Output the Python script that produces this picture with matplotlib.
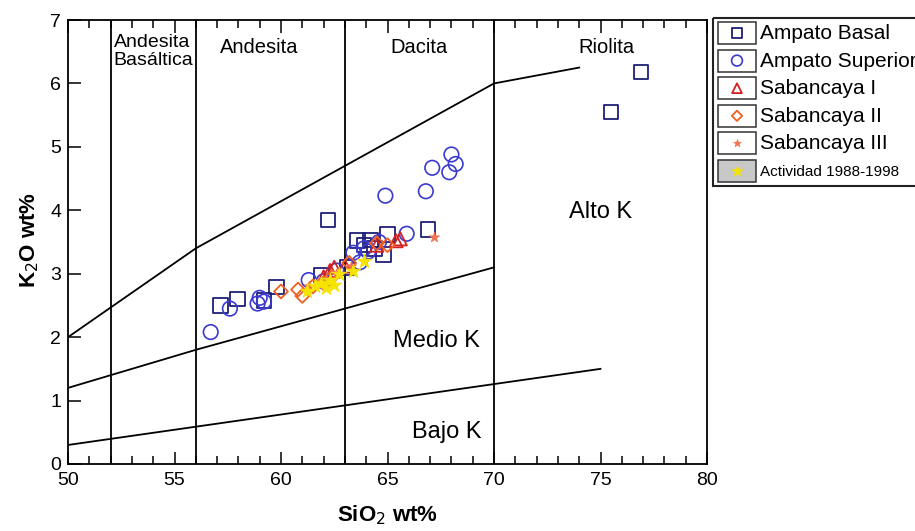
import matplotlib
matplotlib.use("Agg")
import matplotlib.pyplot as plt
from matplotlib.patches import Rectangle
from matplotlib.ticker import MultipleLocator

plt.rcParams['font.family'] = ['Liberation Sans Narrow', 'Liberation Sans', 'DejaVu Sans']

# --- data ---
basal_x = [57.15, 57.95, 59.2, 59.8, 61.9, 62.2, 63.1, 63.6, 63.9, 64.2, 64.4, 64.8, 65.0, 66.9, 75.5, 76.9]
basal_y = [2.50, 2.60, 2.58, 2.79, 2.98, 3.85, 3.10, 3.52, 3.45, 3.53, 3.40, 3.30, 3.62, 3.70, 5.55, 6.18]

sup_x = [56.7, 57.6, 58.9, 59.2, 59.0, 61.3, 62.0, 62.6, 63.4, 63.7, 63.9, 64.1, 64.6, 65.9,
         64.9, 66.8, 67.1, 67.9, 68.0, 68.2]
sup_y = [2.08, 2.45, 2.53, 2.56, 2.62, 2.90, 2.88, 3.05, 3.33, 3.18, 3.40, 3.35, 3.50, 3.63,
         4.23, 4.30, 4.67, 4.60, 4.88, 4.73]

sab1_x = [62.0, 62.3, 62.5, 63.0, 64.5, 65.4, 65.6]
sab1_y = [2.95, 3.05, 3.10, 3.12, 3.45, 3.52, 3.55]

sab2_x = [60.0, 60.8, 61.0, 61.5, 62.0, 62.4, 63.2, 64.5, 65.0]
sab2_y = [2.72, 2.75, 2.65, 2.80, 2.85, 2.95, 3.17, 3.48, 3.45]

sab3_x = [61.3, 61.8, 62.1, 62.6, 63.3, 67.2]
sab3_y = [2.80, 2.88, 2.92, 3.00, 3.12, 3.58]

act_x = [61.2, 61.6, 61.9, 62.1, 62.3, 62.5, 62.7, 63.4, 63.9]
act_y = [2.72, 2.80, 2.85, 2.78, 2.90, 2.82, 3.00, 3.05, 3.20]

# boundary lines
shosh_x = [50, 56, 70, 74]
shosh_y = [2.0, 3.4, 6.0, 6.25]
highk_x = [50, 56, 63, 70]
highk_y = [1.2, 1.8, 2.45, 3.1]
lowk_x = [50, 75]
lowk_y = [0.3, 1.5]
rock_div = [52, 56, 63, 70]

labels = ["Ampato Basal", "Ampato Superior", "Sabancaya I", "Sabancaya II", "Sabancaya III",
          "Actividad 1988-1998"]

fig = plt.figure(figsize=(9.15, 5.31), dpi=100)
ax = fig.add_axes([68/915, 1-464/531, 639/915, 444/531])

for xd in rock_div:
    ax.plot([xd, xd], [0, 7], color="black", lw=1.3)
for xs, ys in [(shosh_x, shosh_y), (highk_x, highk_y), (lowk_x, lowk_y)]:
    ax.plot(xs, ys, color="black", lw=1.3)

styles = [
    dict(marker="s", facecolors="none", edgecolors="#1f1f78", s=110, linewidths=1.3),
    dict(marker="o", facecolors="none", edgecolors="#3a3ad0", s=110, linewidths=1.2),
    dict(marker="^", facecolors="none", edgecolors="#d42020", s=90, linewidths=1.3),
    dict(marker="D", facecolors="none", edgecolors="#f06020", s=50, linewidths=1.3),
    dict(marker="*", color="#f07050", s=60, linewidths=0.5),
    dict(marker="*", color="#f5e400", s=120, linewidths=0.5),
]
series = [(basal_x, basal_y), (sup_x, sup_y), (sab1_x, sab1_y), (sab2_x, sab2_y),
          (sab3_x, sab3_y), (act_x, act_y)]
for (xs, ys), st in zip(series, styles):
    ax.scatter(xs, ys, zorder=3, **st)

ax.set_xlim(50, 80)
ax.set_ylim(0, 7)
ax.xaxis.set_major_locator(MultipleLocator(5))
ax.xaxis.set_minor_locator(MultipleLocator(1))
ax.yaxis.set_major_locator(MultipleLocator(1))
ax.tick_params(which="both", direction="in", top=True, right=False, labelsize=14, width=1.1)
ax.tick_params(which="major", length=9)
ax.tick_params(which="minor", length=6)
ax.tick_params(axis="x", pad=6)
ax.tick_params(axis="y", pad=5)
for sp in ax.spines.values():
    sp.set_linewidth(1.3)

ax.set_xlabel("SiO$_2$ wt%", fontsize=16, fontweight="bold")
ax.set_ylabel("K$_2$O wt%", fontsize=16, fontweight="bold")
ax.xaxis.set_label_coords(0.5, -0.088)
ax.yaxis.set_label_coords(-0.042, 0.505)

# region labels
ax.text(52.15, 6.78, "Andesita\nBasáltica", fontsize=14, ha="left", va="top", linespacing=1.1)
ax.text(59.0, 6.56, "Andesita", fontsize=14.5, ha="center", va="center")
ax.text(66.5, 6.56, "Dacita", fontsize=14.5, ha="center", va="center")
ax.text(75.3, 6.56, "Riolita", fontsize=14.5, ha="center", va="center")
ax.text(75.0, 3.97, "Alto K", fontsize=17, ha="center", va="center")
ax.text(67.3, 1.94, "Medio K", fontsize=17, ha="center", va="center")
ax.text(67.8, 0.5, "Bajo K", fontsize=17, ha="center", va="center")

# legend drawn by hand (boxed swatches)
lax = fig.add_axes([712/915, 1-186/531, 210/915, 169/531])
lax.set_xlim(0, 210)
lax.set_ylim(169, 0)
lax.axis("off")
lax.add_patch(Rectangle((0.5, 0.5), 230, 168, fill=False, lw=1.5, ec="#222222", clip_on=False))
for i, (lab, st) in enumerate(zip(labels, styles)):
    top = 5 + i * 27.6
    fc = "#c8c8c8" if i == 5 else "white"
    lax.add_patch(Rectangle((6, top), 38, 22, fc=fc, ec="#333333", lw=1.1))
    lax.scatter([25], [top + 11], **{**st, "s": st["s"] * 0.55})
    fs = 11 if i == 5 else 15
    lax.text(48, top + 11.5, lab, fontsize=fs, ha="left", va="center")

fig.savefig("out.png", dpi=100)
